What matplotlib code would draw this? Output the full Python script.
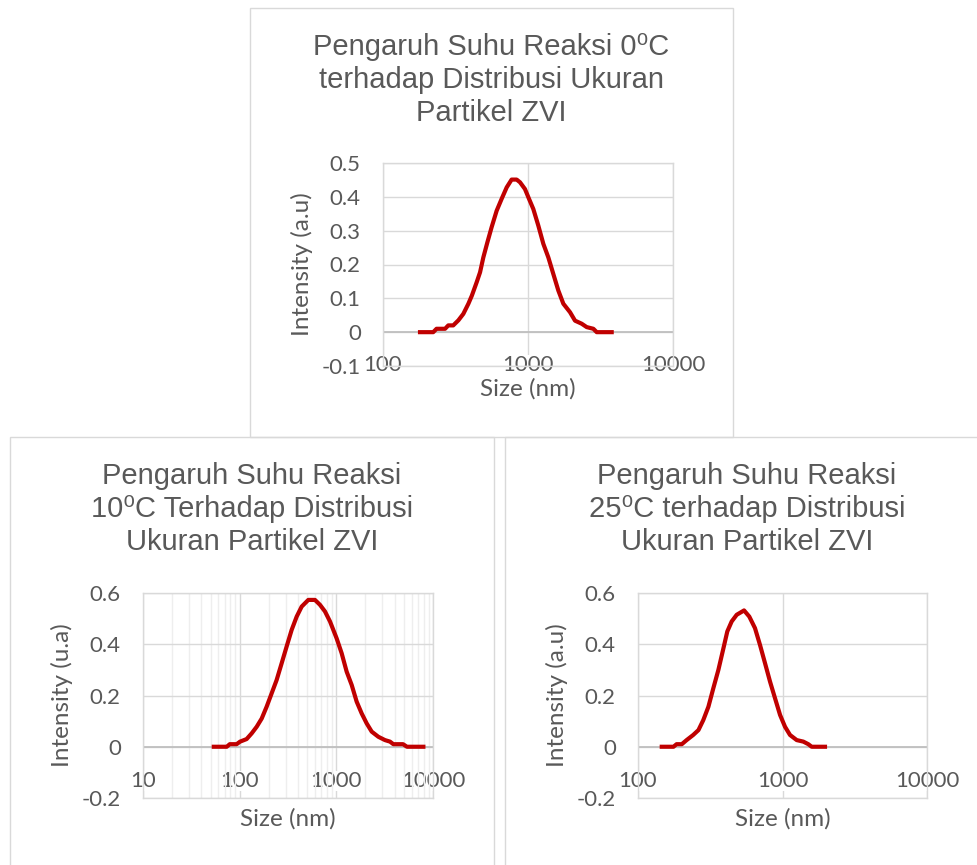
import matplotlib
matplotlib.use("Agg")
import matplotlib.pyplot as plt
from matplotlib.patches import Rectangle

# Size (nm) and intensity values
size_0c = [180, 222, 234, 268, 282, 305, 331, 358, 388, 410, 443, 467, 492, 525,
           561, 608, 658, 713, 771, 835, 881, 953, 1005, 1088, 1178, 1276, 1381,
           1495, 1619, 1753, 1949, 2110, 2345, 2539, 2823, 2978, 3777]
intensity_0c = [0, 0, 0.01, 0.01, 0.02, 0.02, 0.035, 0.054, 0.084, 0.108, 0.148,
                0.177, 0.221, 0.266, 0.31, 0.359, 0.394, 0.428, 0.451, 0.451, 0.443,
                0.423, 0.399, 0.364, 0.315, 0.261, 0.221, 0.172, 0.123, 0.084, 0.059,
                0.034, 0.025, 0.015, 0.01, 0, 0]

size_10c = [54, 73.5, 79, 93, 101, 118, 133, 150, 169, 190, 214, 241, 272, 306, 345,
            389, 438, 513, 601, 677, 763, 860, 1007, 1135, 1279, 1442, 1623, 1829,
            2061, 2322, 2718, 3184, 3589, 3888, 4900, 5375, 7950]
intensity_10c = [0, 0, 0.01, 0.01, 0.02, 0.03, 0.052, 0.078, 0.11, 0.156, 0.208,
                 0.26, 0.326, 0.391, 0.456, 0.508, 0.547, 0.573, 0.573, 0.554, 0.528,
                 0.489, 0.423, 0.365, 0.293, 0.241, 0.176, 0.13, 0.091, 0.059, 0.039,
                 0.026, 0.02, 0.01, 0.01, 0, 0]

size_25c = [146, 176, 185, 201, 217, 241, 262, 283, 307, 332, 360, 390, 415, 445, 482,
            542, 589, 645, 699, 757, 820, 888, 962, 1041, 1127, 1254, 1394, 1509,
            1592, 1968]
intensity_25c = [0, 0, 0.01, 0.01, 0.026, 0.046, 0.065, 0.104, 0.156, 0.228, 0.30,
                 0.384, 0.45, 0.489, 0.515, 0.532, 0.508, 0.463, 0.397, 0.326, 0.254,
                 0.189, 0.124, 0.078, 0.046, 0.026, 0.02, 0.01, 0, 0]

titles = [
    ["Pengaruh Suhu Reaksi 0\u2070C", "terhadap Distribusi Ukuran", "Partikel ZVI"],
    ["Pengaruh Suhu Reaksi", "10\u2070C Terhadap Distribusi", "Ukuran Partikel ZVI"],
    ["Pengaruh Suhu Reaksi", "25\u2070C terhadap Distribusi", "Ukuran Partikel ZVI"],
]
ylabels = ["Intensity (a.u)", "Intensity (u.a)", "Intensity (a.u)"]

W, H = 977, 865
TXT = '#595959'
GRID = '#D9D9D9'
RED = '#C00000'

fig = plt.figure(figsize=(W / 100, H / 100), dpi=100)


def box(left, top, right, bottom):
    return [left / W, 1 - bottom / H, (right - left) / W, (bottom - top) / H]


# panel frames (left, top, right, bottom) in pixels
panels = [(250, 8, 733, 437), (10, 437, 494, 866), (505, 437, 989, 866)]
plots = [(383, 163, 673, 366), (143, 593, 433, 798), (638, 593, 927, 798)]
xlims = [(100, 10000), (10, 10000), (100, 10000)]
xticks = [[100, 1000, 10000], [10, 100, 1000, 10000], [100, 1000, 10000]]
yticks = [[-0.1, 0, 0.1, 0.2, 0.3, 0.4, 0.5], [-0.2, 0, 0.2, 0.4, 0.6],
          [-0.2, 0, 0.2, 0.4, 0.6]]
xpads = [-1, -12, -12]
data = [(size_0c, intensity_0c), (size_10c, intensity_10c), (size_25c, intensity_25c)]

for i in range(3):
    l, t, r, b = panels[i]
    fig.patches.append(Rectangle((l / W, 1 - b / H), (r - l) / W, (b - t) / H,
                                 transform=fig.transFigure, facecolor='none',
                                 edgecolor=GRID, lw=1.0))
    cx = (l + r) / 2
    for k, line in enumerate(titles[i]):
        fig.text(cx / W, 1 - (t + 47 + 33 * k) / H, line, ha='center', va='baseline',
                 fontsize=21, color=TXT, family=['Liberation Sans', 'DejaVu Sans'])

    ax = fig.add_axes(box(*plots[i]))
    x, y = data[i]
    ax.set_xscale('log')
    ax.set_xlim(*xlims[i])
    ax.set_ylim(yticks[i][0], yticks[i][-1])
    ax.set_xticks(xticks[i])
    ax.set_xticklabels([str(v) for v in xticks[i]])
    ax.set_yticks(yticks[i])
    ax.set_yticklabels([f'{v:g}' for v in yticks[i]])
    if i == 1:
        ax.xaxis.grid(True, which='minor', color='#EEEEEE', lw=1.0, zorder=0)
    else:
        ax.xaxis.set_minor_locator(matplotlib.ticker.NullLocator())
    ax.grid(True, which='major', color=GRID, lw=1.0, zorder=0)
    ax.set_axisbelow(True)
    for s in ax.spines.values():
        s.set_color(GRID)
        s.set_linewidth(1.0)
    ax.axhline(0, color='#BFBFBF', lw=1.3, zorder=1)
    ax.plot(x, y, color=RED, lw=3.0, zorder=3, solid_joinstyle='round')

    ax.tick_params(which='both', length=0, colors=TXT, labelsize=16)
    ax.tick_params(axis='y', pad=16)
    ax.tick_params(axis='x', pad=xpads[i])
    for lab in ax.get_xticklabels() + ax.get_yticklabels():
        lab.set_family('Lato')
    for lab in ax.get_xticklabels():
        lab.set_va('center')
        lab.set_bbox(dict(facecolor='white', edgecolor='none', pad=0))

    ax.set_xlabel('Size (nm)', fontsize=17.5, color=TXT, family='Lato', va='center')
    ax.set_ylabel(ylabels[i], fontsize=17.5, color=TXT, family='Lato', va='center')
    pl, pt, pr, pb = plots[i]
    ax.xaxis.set_label_coords(0.5, -(23 if i == 0 else 21) / (pb - pt))
    ax.yaxis.set_label_coords(-81 / (pr - pl), 0.5)

fig.savefig('out.png', dpi=100)
